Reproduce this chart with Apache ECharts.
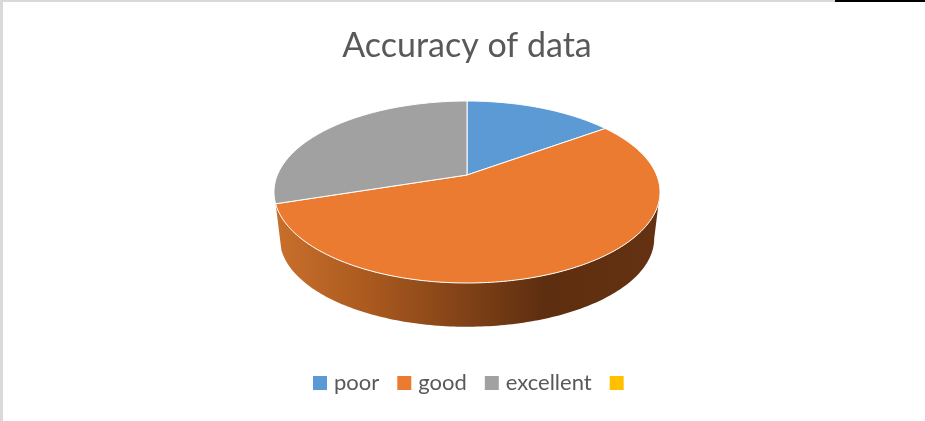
<!DOCTYPE html>
<html>
<head>
<meta charset="utf-8">
<style>
  html, body { margin: 0; padding: 0; background: #fff; }
  #main { width: 925px; height: 421px; }
</style>
<script src="https://cdn.jsdelivr.net/npm/echarts@6/dist/echarts.min.js"></script>
</head>
<body>
<div id="main"></div>
<script>
var categories = ['poor', 'good', 'excellent', ' '];
var values = [15, 55, 30, 0];
var colors = ['#5b9ad5', '#eb7b30', '#a1a1a1', '#ffc000'];

var total = values.reduce(function (a, b) { return a + b; }, 0);

// tilted pie: apex of the slices and perspective of the disc
var cx = 467, cy = 175;
var rx = 189.6, ry = 87.8, persp = 0.187;
var depth = 47, lowerScale = 0.97;

// angle in degrees, clockwise from the top of the pie
function project(deg, lower) {
  var t = deg * Math.PI / 180;
  var x = Math.sin(t), y = -Math.cos(t);
  var d = 1 - persp * y;
  var s = lower ? lowerScale : 1;
  return [cx + s * rx * x / d, cy + s * ry * y / d + (lower ? depth : 0)];
}

function arc(from, to, lower) {
  var pts = [];
  var n = Math.max(1, Math.ceil(Math.abs(to - from)));
  for (var i = 0; i <= n; i++) {
    pts.push(project(from + (to - from) * i / n, lower));
  }
  return pts;
}

// the wall is only seen on the front of the disc
var frontFrom = 90 + Math.asin(persp) * 180 / Math.PI;
var frontTo = 270 - Math.asin(persp) * 180 / Math.PI;

function wallFill() {
  return new echarts.graphic.LinearGradient(276, 0, 659, 0, [
    { offset: 0, color: '#c96f2c' },
    { offset: 0.25, color: '#a9591f' },
    { offset: 0.7, color: '#5e2e10' },
    { offset: 1, color: '#643212' }
  ], true);
}

function makeSeries(name, idx) {
  return {
    type: 'custom',
    name: name,
    coordinateSystem: 'none',
    silent: true,
    animation: false,
    itemStyle: { color: colors[idx] },
    data: [values[idx]],
    renderItem: function (params, api) {
      var v = api.value(0);
      var children = [];
      if (!v) return { type: 'group', children: children };
      var before = values.slice(0, idx).reduce(function (a, b) { return a + b; }, 0);
      var start = before / total * 360;
      var end = (before + v) / total * 360;
      var wFrom = Math.max(start, frontFrom), wTo = Math.min(end, frontTo);
      if (wTo > wFrom && idx === 1) {
        children.push({
          type: 'polygon',
          shape: { points: arc(wFrom, wTo, false).concat(arc(wTo, wFrom, true)) },
          style: { fill: wallFill() }
        });
      }
      children.push({
        type: 'polygon',
        shape: { points: [[cx, cy]].concat(arc(start, end, false)) },
        style: { fill: colors[idx], stroke: '#fff', lineWidth: 1 }
      });
      return { type: 'group', children: children };
    }
  };
}

var option = {
  backgroundColor: '#fff',
  animation: false,
  title: {
    text: 'Accuracy of data',
    left: 467,
    top: 29,
    padding: 0,
    textAlign: 'center',
    textStyle: { color: '#595959', fontFamily: 'Lato', fontSize: 34, fontWeight: 'normal' }
  },
  legend: {
    data: categories,
    left: 313,
    top: 372,
    padding: 0,
    icon: 'rect',
    itemWidth: 14,
    itemHeight: 14,
    itemGap: 18,
    textStyle: { color: '#595959', fontFamily: 'Lato', fontSize: 22, padding: [0, 0, 0, 2] }
  },
  graphic: [
    { type: 'rect', shape: { x: 0, y: 0, width: 835, height: 2 }, style: { fill: '#d9d9d9' } },
    { type: 'rect', shape: { x: 835, y: 0, width: 90, height: 2 }, style: { fill: '#000' } },
    { type: 'rect', shape: { x: 0, y: 0, width: 3, height: 421 }, style: { fill: '#d9d9d9' } }
  ],
  series: categories.map(makeSeries)
};

var myChart = echarts.init(document.getElementById('main'));
myChart.setOption(option);
</script>
</body>
</html>
